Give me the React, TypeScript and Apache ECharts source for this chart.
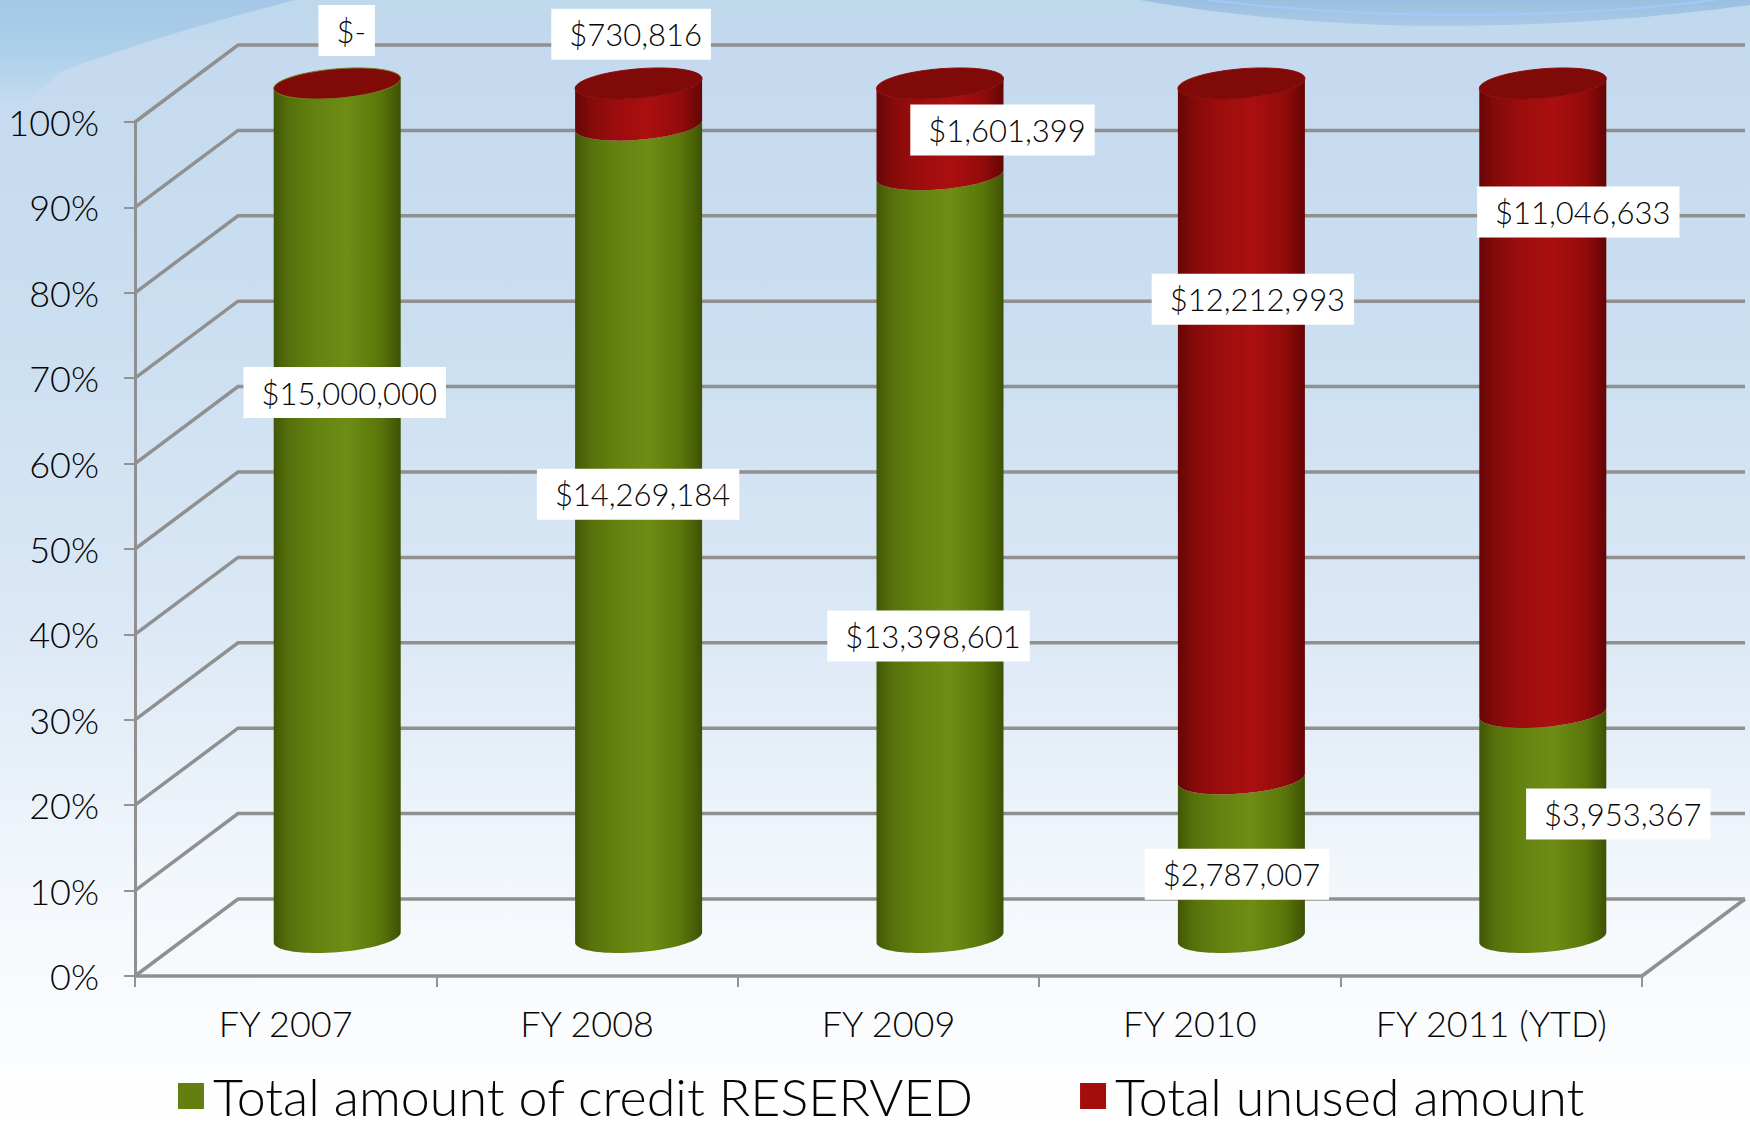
import React, { useEffect, useRef } from "react";
import * as echarts from "echarts";

const fiscalYears = ["FY 2007", "FY 2008", "FY 2009", "FY 2010", "FY 2011 (YTD)"];
const creditReserved = [15000000, 14269184, 13398601, 2787007, 3953367];
const unusedAmount = [0, 730816, 1601399, 12212993, 11046633];
const percentTicks = [0, 10, 20, 30, 40, 50, 60, 70, 80, 90, 100];

const RESERVED_NAME = "Total amount of credit RESERVED";
const UNUSED_NAME = "Total unused amount";

// Hand-placed label nudges, in pixels from the middle of each cylinder segment.
const reservedLabelNudge = [[12, -118], [4, -37], [-7, 80], [0, 16], [80, -11]];
const unusedLabelNudge = [[14, -53], [-3, -70], [67, 1], [16, -132], [40, -186]];

const FONT = "Lato, 'Open Sans', sans-serif";
const INK = "#050505";

// Offset of the floor's back edge relative to its front edge; cylinders stand halfway.
const DEPTH_X = 103;
const DEPTH_Y = -77;
const ELLIPSE_U = [63.5, -5];
const ELLIPSE_V = [0, 14.7];

const percentOf = (i: number, v: number) => (v / (creditReserved[i] + unusedAmount[i])) * 100;
const money = (v: number) => (v === 0 ? "$-" : "$" + v.toLocaleString("en-US"));

const arc = (c: number[], from: number, to: number, steps = 40) => {
  const pts: number[][] = [];
  for (let k = 0; k <= steps; k++) {
    const t = from + ((to - from) * k) / steps;
    pts.push([
      c[0] + ELLIPSE_U[0] * Math.cos(t) + ELLIPSE_V[0] * Math.sin(t),
      c[1] + ELLIPSE_U[1] * Math.cos(t) + ELLIPSE_V[1] * Math.sin(t),
    ]);
  }
  return pts;
};

const shade = (stops: [number, string][]) =>
  new echarts.graphic.LinearGradient(0, 0, 1, 0, stops.map(([offset, color]) => ({ offset, color })));

const greenBody = shade([
  [0, "#425706"],
  [0.12, "#56700b"],
  [0.32, "#648210"],
  [0.58, "#6e8d14"],
  [0.84, "#5a760a"],
  [1, "#3e5204"],
]);
const redBody = shade([
  [0, "#660606"],
  [0.12, "#840a0a"],
  [0.32, "#9c0d0d"],
  [0.58, "#ab0f0f"],
  [0.84, "#920b0b"],
  [1, "#640505"],
]);

const floorPoint = (api: any, idx: number, value: number) => {
  const p = api.coord([idx, value]);
  return [p[0] + DEPTH_X / 2, p[1] + DEPTH_Y / 2];
};

const renderCylinder = (fill: any, withCap: boolean) => (_: any, api: any) => {
  const idx = api.value(0);
  const low = floorPoint(api, idx, api.value(1));
  const high = floorPoint(api, idx, api.value(2));
  const children: any[] = [
    {
      type: "polygon",
      shape: { points: [...arc(low, Math.PI, 0), ...arc(high, 0, Math.PI)] },
      style: { fill },
    },
  ];
  if (withCap) {
    children.push({
      type: "polygon",
      shape: { points: arc(high, 0, Math.PI * 2, 72) },
      style: { fill: "#7f0a08", stroke: idx === 0 ? "#73761a" : "#8a0c0a", lineWidth: 1 },
    });
  }
  return { type: "group", children };
};

const renderWall = (params: any, api: any) => {
  const value = api.value(1);
  const y = api.coord([0, value])[1];
  const sys = params.coordSys;
  const left = sys.x;
  const right = sys.x + sys.width;
  const lineStyle = { stroke: "#909090", lineWidth: 3.5, fill: "none" };
  const children: any[] = [
    {
      type: "polyline",
      shape: {
        points: [
          [left, y],
          [left + DEPTH_X, y + DEPTH_Y],
          [right + DEPTH_X, y + DEPTH_Y],
        ],
      },
      style: lineStyle,
    },
  ];
  if (value === 0) {
    children.push({
      type: "line",
      shape: { x1: right, y1: y, x2: right + DEPTH_X, y2: y + DEPTH_Y },
      style: lineStyle,
    });
  }
  return { type: "group", children };
};

const renderLabel = (_: any, api: any) => {
  const idx = api.value(0);
  const mid = floorPoint(api, idx, api.value(1));
  return {
    type: "text",
    style: {
      text: money(api.value(2)),
      x: mid[0] + api.value(3) - 4.5,
      y: mid[1] + api.value(4),
      align: "center",
      verticalAlign: "middle",
      fill: INK,
      font: `300 31px ${FONT}`,
      backgroundColor: "#ffffff",
      padding: [10, 9, 10, 18],
    },
  };
};

echarts.graphic.registerShape(
  "cornerSwoosh",
  echarts.graphic.extendPath("M0 0 L295 0 C210 22 130 46 60 72 L30 100 L0 100 Z", {})
);
echarts.graphic.registerShape(
  "topWave",
  echarts.graphic.extendPath("M1140 0 C1230 16 1340 26 1441 26 C1560 26 1670 16 1750 5 L1750 0 Z", {})
);
echarts.graphic.registerShape(
  "topWaveLine",
  echarts.graphic.extendPath("M1208 0 C1290 10 1370 15 1453 15 C1550 15 1640 10 1714 0", {})
);

export default function App() {
  const ref = useRef<HTMLDivElement>(null);

  useEffect(() => {
    const chart = echarts.init(ref.current!, undefined, { renderer: "svg" });

    const reservedRows = creditReserved.map((v, i) => [i, 0, percentOf(i, v)]);
    const unusedRows = unusedAmount.map((_, i) => [i, percentOf(i, creditReserved[i]), 100]);
    const labelRows = [
      ...creditReserved.map((v, i) => [i, percentOf(i, v) / 2, v, ...reservedLabelNudge[i]]),
      ...unusedAmount.map((v, i) => [
        i,
        percentOf(i, creditReserved[i]) + percentOf(i, v) / 2,
        v,
        ...unusedLabelNudge[i],
      ]),
    ];

    chart.setOption({
      animation: false,
      backgroundColor: new echarts.graphic.LinearGradient(0, 0, 0, 1, [
        { offset: 0, color: "#bed8ec" },
        { offset: 0.06, color: "#c6daef" },
        { offset: 0.3, color: "#cbdff1" },
        { offset: 0.55, color: "#dbe8f5" },
        { offset: 0.8, color: "#f4f8fc" },
        { offset: 1, color: "#ffffff" },
      ]),
      graphic: [
        {
          type: "cornerSwoosh",
          x: 0,
          y: 0,
          style: {
            fill: new echarts.graphic.LinearGradient(0, 0, 0, 1, [
              { offset: 0, color: "#a3c7e5" },
              { offset: 0.5, color: "#acd0ea" },
              { offset: 1, color: "#c2daef" },
            ]),
          },
        },
        {
          type: "topWave",
          x: 0,
          y: 0,
          style: {
            fill: new echarts.graphic.LinearGradient(0, 0, 0, 1, [
              { offset: 0, color: "#9bbfe1" },
              { offset: 1, color: "#abc9e7" },
            ]),
          },
        },
        { type: "topWaveLine", x: 0, y: 0, style: { fill: "none", stroke: "#a0cbf8", lineWidth: 2 } },
      ],
      legend: {
        left: 178,
        top: 1070,
        itemWidth: 26,
        itemHeight: 26,
        itemGap: 106,
        padding: 0,
        textStyle: { fontFamily: FONT, fontWeight: 300, fontSize: 52, color: INK, padding: [0, 0, 0, 4] },
        data: [
          { name: RESERVED_NAME, icon: "rect", itemStyle: { color: "#647f10" } },
          { name: UNUSED_NAME, icon: "rect", itemStyle: { color: "#a30e0c" } },
        ],
      },
      grid: { left: 135, right: 108, top: 122, bottom: 151 },
      xAxis: {
        type: "category",
        data: fiscalYears,
        axisLine: { lineStyle: { color: "#909090", width: 3.5 } },
        axisTick: { show: true, interval: 0, length: 11, lineStyle: { color: "#939393", width: 2 } },
        axisLabel: { interval: 0, fontFamily: FONT, fontWeight: 300, fontSize: 36, color: INK, margin: 29 },
      },
      yAxis: {
        type: "value",
        min: 0,
        max: 100,
        interval: 10,
        splitLine: { show: false },
        axisLine: { show: true, lineStyle: { color: "#909090", width: 3 } },
        axisTick: { show: true, length: 11, lineStyle: { color: "#939393", width: 2 } },
        axisLabel: {
          fontFamily: FONT,
          fontWeight: 300,
          fontSize: 36,
          color: INK,
          margin: 36,
          formatter: "{value}%",
        },
      },
      series: [
        {
          type: "custom",
          z: 1,
          silent: true,
          renderItem: renderWall,
          data: percentTicks.map((t) => [0, t]),
          encode: { x: 0, y: 1 },
        },
        {
          type: "custom",
          name: RESERVED_NAME,
          z: 3,
          itemStyle: { color: "#647f10" },
          renderItem: renderCylinder(greenBody, false),
          data: reservedRows,
          encode: { x: 0, y: [1, 2] },
        },
        {
          type: "custom",
          name: UNUSED_NAME,
          z: 4,
          itemStyle: { color: "#a30e0c" },
          renderItem: renderCylinder(redBody, true),
          data: unusedRows,
          encode: { x: 0, y: [1, 2] },
        },
        {
          type: "custom",
          z: 5,
          silent: true,
          renderItem: renderLabel,
          data: labelRows,
          encode: { x: 0, y: 1 },
        },
      ],
    });

    return () => chart.dispose();
  }, []);

  return <div ref={ref} style={{ position: "fixed", left: 0, top: 0, width: 1750, height: 1127 }} />;
}
